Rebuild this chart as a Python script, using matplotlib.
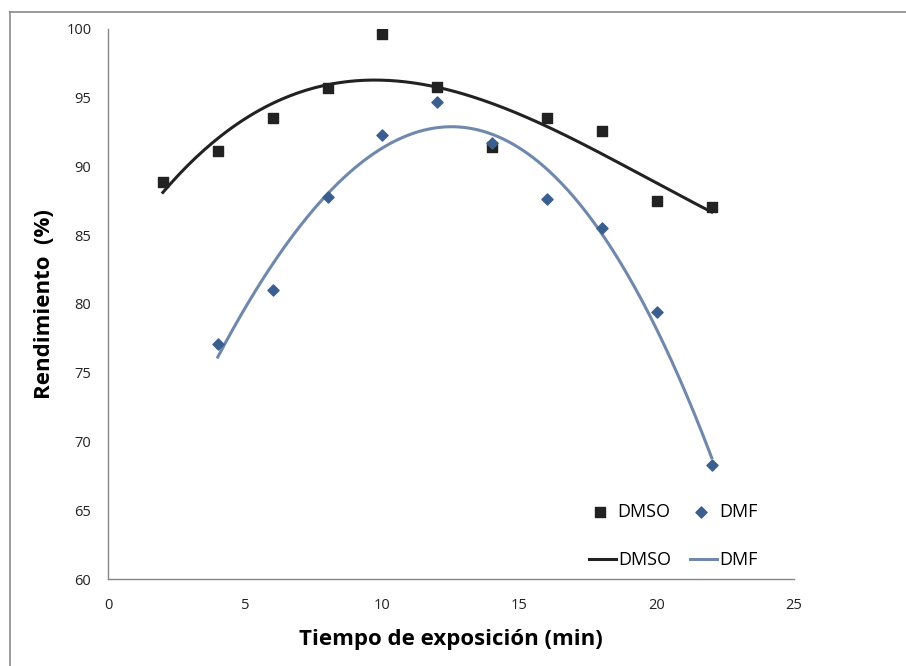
import numpy as np
import matplotlib.pyplot as plt
from matplotlib.lines import Line2D

# Data
tiempo = [2, 4, 6, 8, 10, 12, 14, 16, 18, 20, 22]
dmso = [88.9, 91.1, 93.5, 95.7, 99.6, 95.75, 91.4, 93.5, 92.6, 87.5, 87.05]

tiempo_dmf = [4, 6, 8, 10, 12, 14, 16, 18, 20, 22]
dmf = [77.1, 81.0, 87.8, 92.3, 94.7, 91.7, 87.6, 85.5, 79.4, 68.3]

x_ticks = [0, 5, 10, 15, 20, 25]
y_ticks = [60, 65, 70, 75, 80, 85, 90, 95, 100]

C_DMSO = "#222222"
C_DMF_MK = "#3a5f8f"
C_DMF_LN = "#6f88ab"
FONT = "Open Sans"

plt.rcParams["font.family"] = [FONT, "DejaVu Sans"]

fig = plt.figure(figsize=(9.06, 6.66), dpi=100)
ax = fig.add_axes([0.1192, 0.1306, 0.7572, 0.8259])

# Excel-style polynomial trendlines (order 3)
def trend(x, y, deg):
    coef = np.polyfit(x, y, deg)
    xs = np.linspace(min(x), max(x), 200)
    return xs, np.polyval(coef, xs)

xs, ys = trend(tiempo, dmso, 3)
ln1, = ax.plot(xs, ys, color=C_DMSO, lw=2.2, zorder=2)
xs, ys = trend(tiempo_dmf, dmf, 3)
ln2, = ax.plot(xs, ys, color=C_DMF_LN, lw=2.2, zorder=2)

mk1 = ax.scatter(tiempo, dmso, marker="s", s=60, color=C_DMSO, zorder=3)
mk2 = ax.scatter(tiempo_dmf, dmf, marker="D", s=32, color=C_DMF_MK, zorder=4)

ax.set_xlim(0, 25)
ax.set_ylim(60, 100)
ax.set_xticks(x_ticks)
ax.set_yticks(y_ticks)
ax.tick_params(length=0, labelsize=10.5, colors="#222222")
ax.tick_params(axis="x", pad=14)
ax.tick_params(axis="y", pad=12)
for s in ["top", "right"]:
    ax.spines[s].set_visible(False)
for s in ["left", "bottom"]:
    ax.spines[s].set_color("#868686")
    ax.spines[s].set_linewidth(1.0)

ax.set_xlabel("Tiempo de exposición (min)", fontsize=16, fontweight="bold", labelpad=11)
ax.set_ylabel("Rendimiento  (%)", fontsize=16, fontweight="bold", labelpad=8)

leg1 = ax.legend([mk1, mk2], ["DMSO", "DMF"], ncol=2, frameon=False, fontsize=13,
                 loc="center", bbox_to_anchor=(0.824, 0.122), handletextpad=0.4,
                 columnspacing=1.1, handlelength=1.2)
ax.add_artist(leg1)
ax.legend([ln1, ln2], ["DMSO", "DMF"], ncol=2, frameon=False, fontsize=13,
          loc="center", bbox_to_anchor=(0.824, 0.034), handletextpad=0.15,
          columnspacing=1.0, handlelength=1.5)

# outer chart border (extends past right and bottom edges)
fig.add_artist(Line2D([10 / 906, 10 / 906], [0, 1 - 12 / 666], color="#8a8a8a", lw=1.2))
fig.add_artist(Line2D([10 / 906, 1], [1 - 12 / 666, 1 - 12 / 666], color="#8a8a8a", lw=1.2))

fig.savefig("out.png", dpi=100)
